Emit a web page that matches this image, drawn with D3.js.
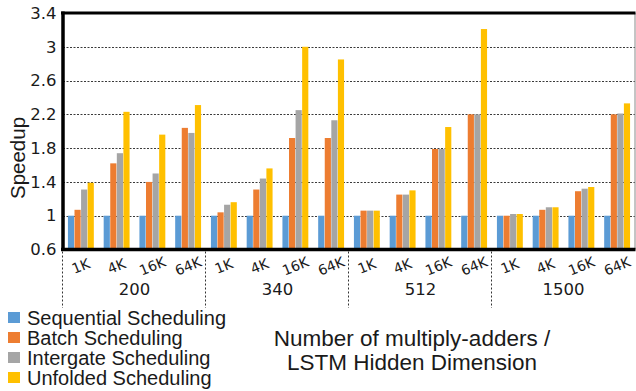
<!DOCTYPE html>
<html>
<head>
<meta charset="utf-8">
<script src="https://cdn.jsdelivr.net/npm/d3@7"></script>
<style>
  html, body { margin: 0; padding: 0; background: #fff; }
  svg { display: block; }
</style>
</head>
<body>
<svg id="chart" width="636" height="391"></svg>
<script>
// Speedup of four LSTM scheduling schemes across hidden dimensions and multiply-adder counts
const groups = ["200", "340", "512", "1500"];
const sizes = ["1K", "4K", "16K", "64K"];
const seriesNames = ["Sequential Scheduling", "Batch Scheduling", "Intergate Scheduling", "Unfolded Scheduling"];
const seriesColors = ["#5B9BD5", "#ED7D31", "#A5A5A5", "#FFC000"];

const sequential = [1.00, 1.00, 1.00, 1.00, 1.00, 1.00, 1.00, 1.00, 1.00, 1.00, 1.00, 1.00, 1.00, 1.00, 1.00, 1.00];
const batch      = [1.07, 1.62, 1.40, 2.04, 1.04, 1.31, 1.92, 1.92, 1.06, 1.25, 1.79, 2.20, 1.00, 1.07, 1.29, 2.20];
const intergate  = [1.31, 1.74, 1.50, 1.98, 1.13, 1.44, 2.25, 2.13, 1.06, 1.25, 1.79, 2.20, 1.02, 1.10, 1.32, 2.21];
const unfolded   = [1.39, 2.23, 1.96, 2.31, 1.16, 1.56, 3.00, 2.85, 1.06, 1.30, 2.05, 3.21, 1.02, 1.10, 1.34, 2.33];

const yTicks = [0.6, 1.0, 1.4, 1.8, 2.2, 2.6, 3.0, 3.4];
const yTickLabels = ["0.6", "1", "1.4", "1.8", "2.2", "2.6", "3", "3.4"];
const yLabel = "Speedup";
const xTitle = ["Number of multiply-adders /", "LSTM Hidden Dimension"];

const seriesValues = [sequential, batch, intergate, unfolded];

// categories: one per (hidden dimension, adder count) pair
const categories = [];
groups.forEach(g => sizes.forEach(s => categories.push({ group: g, size: s, key: g + "-" + s })));

const svg = d3.select("#chart");
const plot = { left: 63, right: 635, top: 13, bottom: 249.5 };

const x0 = d3.scaleBand()
  .domain(categories.map(c => c.key))
  .range([plot.left, plot.right])
  .padding(0);

const x1 = d3.scaleBand()
  .domain(d3.range(seriesNames.length))
  .range([0, x0.bandwidth()])
  .paddingOuter(0.75)
  .paddingInner(0.06);

const y = d3.scaleLinear().domain([0.6, 3.4]).range([plot.bottom, plot.top]);

// dotted horizontal gridlines
svg.append("g")
  .selectAll("line")
  .data(yTicks.filter(t => t > 0.6 && t < 3.4))
  .join("line")
  .attr("x1", plot.left)
  .attr("x2", plot.right)
  .attr("y1", d => Math.round(y(d)) + 0.5)
  .attr("y2", d => Math.round(y(d)) + 0.5)
  .attr("stroke", "#3a3a3a")
  .attr("stroke-width", 1)
  .attr("stroke-dasharray", "2,1.5");

// bars
const barGroups = svg.append("g")
  .selectAll("g")
  .data(categories)
  .join("g")
  .attr("transform", d => `translate(${x0(d.key)},0)`);

barGroups.selectAll("rect")
  .data((d, i) => seriesValues.map((vals, s) => ({ s, v: vals[i] })))
  .join("rect")
  .attr("x", d => x1(d.s))
  .attr("width", x1.bandwidth())
  .attr("y", d => y(d.v))
  .attr("height", d => y(0.6) - y(d.v))
  .attr("fill", d => seriesColors[d.s]);

// plot frame
svg.append("line")
  .attr("x1", plot.right).attr("x2", plot.right)
  .attr("y1", plot.top).attr("y2", plot.bottom)
  .attr("stroke", "#8a8a8a").attr("stroke-width", 1);
svg.append("line")
  .attr("x1", plot.left - 2).attr("x2", plot.right + 0.5)
  .attr("y1", plot.top).attr("y2", plot.top)
  .attr("stroke", "#000").attr("stroke-width", 3);
svg.append("line")
  .attr("x1", plot.left - 2).attr("x2", plot.right + 0.5)
  .attr("y1", plot.bottom).attr("y2", plot.bottom)
  .attr("stroke", "#000").attr("stroke-width", 3.5);
svg.append("line")
  .attr("x1", plot.left).attr("x2", plot.left)
  .attr("y1", plot.top - 1.5).attr("y2", plot.bottom + 1.5)
  .attr("stroke", "#000").attr("stroke-width", 3.5);

// y axis tick labels
const yAxis = d3.axisLeft(y)
  .tickValues(yTicks)
  .tickFormat((d, i) => yTickLabels[i])
  .tickSize(0)
  .tickPadding(6);
const yAxisG = svg.append("g")
  .attr("transform", `translate(${plot.left - 0.5},0)`)
  .call(yAxis);
yAxisG.select(".domain").remove();
yAxisG.selectAll("text")
  .attr("font-family", "DejaVu Sans, sans-serif")
  .attr("font-size", 16.5)
  .attr("fill", "#1a1a1a");

// y axis label
svg.append("text")
  .attr("transform", `translate(25,${158}) rotate(-90)`)
  .attr("text-anchor", "middle")
  .attr("font-family", "Liberation Sans, Arial, sans-serif")
  .attr("font-size", 20.5)
  .attr("fill", "#1a1a1a")
  .text(yLabel);

// x tick labels (adder counts), slanted
svg.append("g")
  .selectAll("text")
  .data(categories)
  .join("text")
  .attr("transform", d => `translate(${x0(d.key) + x0.bandwidth() / 2},${266}) rotate(-22)`)
  .attr("text-anchor", "middle")
  .attr("dominant-baseline", "central")
  .attr("font-family", "DejaVu Sans, sans-serif")
  .attr("font-size", 14)
  .attr("fill", "#1a1a1a")
  .text(d => d.size);

// group labels (hidden dimension)
const groupWidth = x0.step() * sizes.length;
svg.append("g")
  .selectAll("text")
  .data(groups)
  .join("text")
  .attr("x", (g, i) => plot.left + groupWidth * (i + 0.5))
  .attr("y", 295)
  .attr("text-anchor", "middle")
  .attr("font-family", "DejaVu Sans, sans-serif")
  .attr("font-size", 16.5)
  .attr("fill", "#1a1a1a")
  .text(g => g);

// dotted group separators
svg.append("g")
  .selectAll("line")
  .data(groups)
  .join("line")
  .attr("x1", (g, i) => Math.round(plot.left + groupWidth * i) - 0.5)
  .attr("x2", (g, i) => Math.round(plot.left + groupWidth * i) - 0.5)
  .attr("y1", plot.bottom + 2)
  .attr("y2", 308)
  .attr("stroke", "#333")
  .attr("stroke-width", 1)
  .attr("stroke-dasharray", "2,2");

// legend
const legend = svg.append("g")
  .selectAll("g")
  .data(seriesNames)
  .join("g")
  .attr("transform", (d, i) => `translate(8,${312 + i * 20})`);
legend.append("rect")
  .attr("width", 12)
  .attr("height", 11)
  .attr("fill", (d, i) => seriesColors[i]);
legend.append("text")
  .attr("x", 19)
  .attr("y", 13)
  .attr("font-family", "Liberation Sans, Arial, sans-serif")
  .attr("font-size", 20)
  .attr("textLength", null)
  .attr("fill", "#1a1a1a")
  .text(d => d);

// x axis title
svg.append("g")
  .selectAll("text")
  .data(xTitle)
  .join("text")
  .attr("x", 412)
  .attr("y", (d, i) => 346 + i * 23.5)
  .attr("text-anchor", "middle")
  .attr("font-family", "Liberation Sans, Arial, sans-serif")
  .attr("font-size", 22.5)
  .attr("fill", "#1a1a1a")
  .text(d => d);
</script>
</body>
</html>
